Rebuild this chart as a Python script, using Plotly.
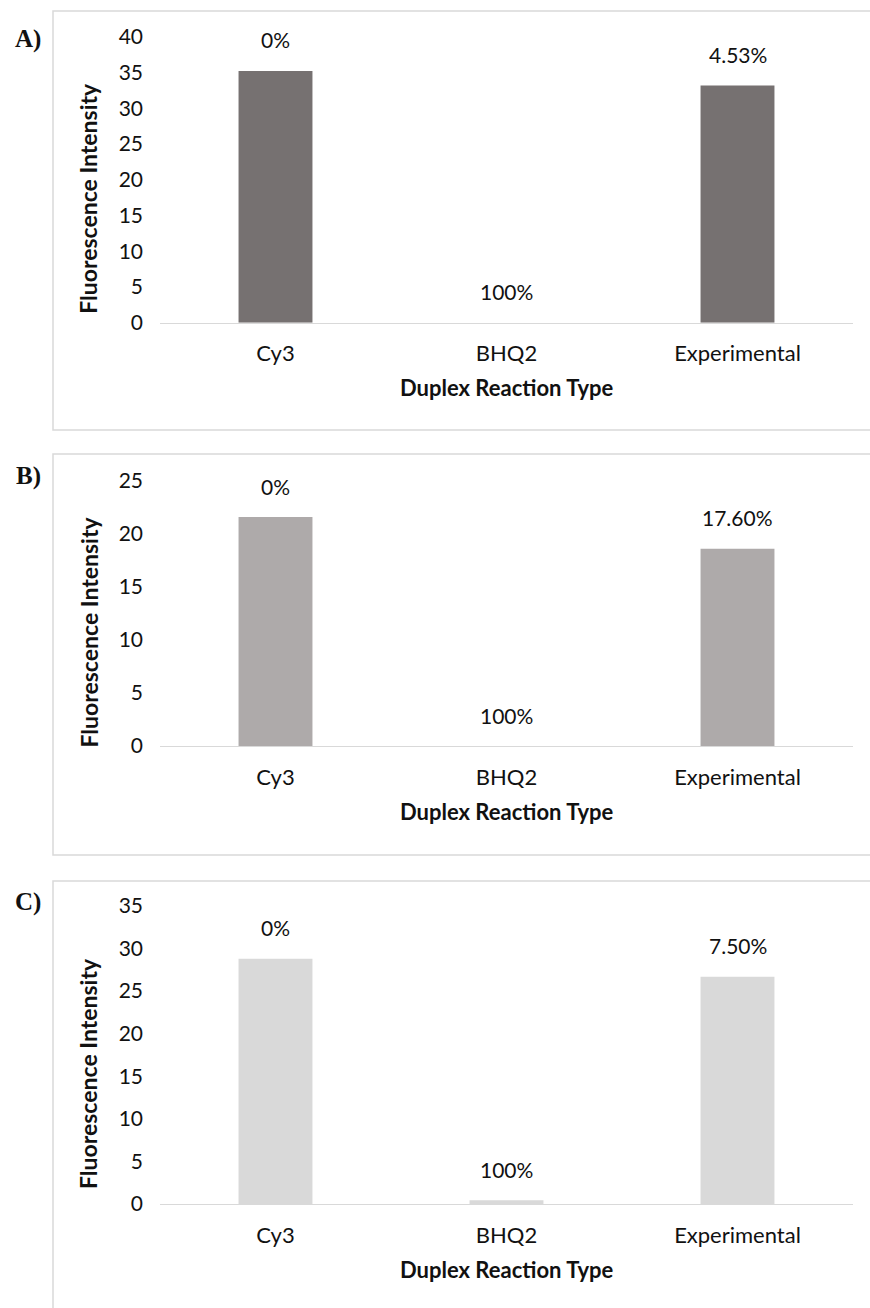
import plotly.graph_objects as go

# ---------------- data ----------------
categories = ["Cy3", "BHQ2", "Experimental"]

values_a = [35.25, 0.0, 33.2]
values_b = [21.6, 0.0, 18.6]
values_c = [28.8, 0.45, 26.7]

labels_a = ["0%", "100%", "4.53%"]
labels_b = ["0%", "100%", "17.60%"]
labels_c = ["0%", "100%", "7.50%"]

ymax_a, dtick_a = 40, 5
ymax_b, dtick_b = 25, 5
ymax_c, dtick_c = 35, 5

panel_letters = ["A)", "B)", "C)"]
y_title = "Fluorescence Intensity"
x_title = "Duplex Reaction Type"

colors = ["#767171", "#AEAAAA", "#D9D9D9"]

# ---------------- layout helpers ----------------
W, H = 870, 1308
FONT = "Lato, 'Open Sans', sans-serif"
TXT = "#111111"


def px_x(p):
    return p / W


def px_y(p):
    return 1 - p / H


# plot-area pixel boxes (top, bottom) for each panel
plot_boxes = [(37, 322.7), (481, 746), (906, 1204)]
panel_boxes = [(11, 430), (454, 855), (881, 1330)]
letter_y = [39, 476, 902]
x_dom = [px_x(160), px_x(853)]

panels = [
    (values_a, labels_a, ymax_a, dtick_a),
    (values_b, labels_b, ymax_b, dtick_b),
    (values_c, labels_c, ymax_c, dtick_c),
]

fig = go.Figure()
annotations = []
shapes = []

for i, (vals, labs, ymax, dt) in enumerate(panels):
    n = "" if i == 0 else str(i + 1)
    xa, ya = "x" + n, "y" + n
    fig.add_trace(go.Bar(
        x=categories, y=vals, xaxis=xa, yaxis=ya,
        marker=dict(color=colors[i], line=dict(width=0)),
        width=0.32, showlegend=False, hoverinfo="x+y",
    ))
    top, bot = plot_boxes[i]
    fig.layout["xaxis" + n] = dict(
        domain=x_dom, anchor=ya, type="category",
        showline=True, linecolor="#d9d9d9", linewidth=1.3,
        showgrid=False, zeroline=False, ticks="",
        ticklabelstandoff=11, automargin=False,
        tickfont=dict(family=FONT, size=22, color=TXT),
        fixedrange=True,
    )
    fig.layout["yaxis" + n] = dict(
        domain=[px_y(bot), px_y(top)], anchor=xa,
        range=[0, ymax], dtick=dt, tick0=0,
        showline=False, showgrid=False, zeroline=False, ticks="",
        ticklabelstandoff=16, automargin=False,
        tickfont=dict(family=FONT, size=21, color=TXT),
        fixedrange=True,
    )
    for c, v, t in zip(categories, vals, labs):
        annotations.append(dict(
            x=c, y=v, xref=xa, yref=ya, text=t, showarrow=False,
            yanchor="middle", yshift=31,
            font=dict(family=FONT, size=21, color=TXT),
        ))
    # axis titles
    annotations.append(dict(
        x=0.5, y=0, xref=xa + " domain", yref=ya + " domain",
        text="<b>" + x_title + "</b>", showarrow=False,
        yanchor="middle", yshift=-65,
        font=dict(family=FONT, size=22, color=TXT),
    ))
    annotations.append(dict(
        x=px_x(88), y=0.5, xref="paper", yref=ya + " domain",
        text="<b>" + y_title + "</b>", showarrow=False, textangle=-90,
        xanchor="center", yanchor="middle", yshift=-19,
        font=dict(family=FONT, size=23, color=TXT),
    ))
    # panel letter
    annotations.append(dict(
        x=px_x(28), y=px_y(letter_y[i]), xref="paper", yref="paper",
        text="<b>" + panel_letters[i] + "</b>", showarrow=False,
        xanchor="center", yanchor="middle",
        font=dict(family="'Liberation Serif', 'DejaVu Serif', serif", size=25, color="#111"),
    ))
    # panel border
    pt, pb = panel_boxes[i]
    shapes.append(dict(
        type="rect", xref="paper", yref="paper",
        x0=px_x(53), x1=px_x(900), y0=px_y(pb), y1=px_y(pt),
        line=dict(color="#d9d9d9", width=1.5), fillcolor="rgba(0,0,0,0)",
        layer="below",
    ))

fig.update_layout(
    width=W, height=H,
    margin=dict(l=0, r=0, t=0, b=0, pad=0, autoexpand=False),
    paper_bgcolor="white", plot_bgcolor="white",
    annotations=annotations, shapes=shapes,
    bargap=0.68,
)

fig.write_html("out.html", config={"displayModeBar": False})
